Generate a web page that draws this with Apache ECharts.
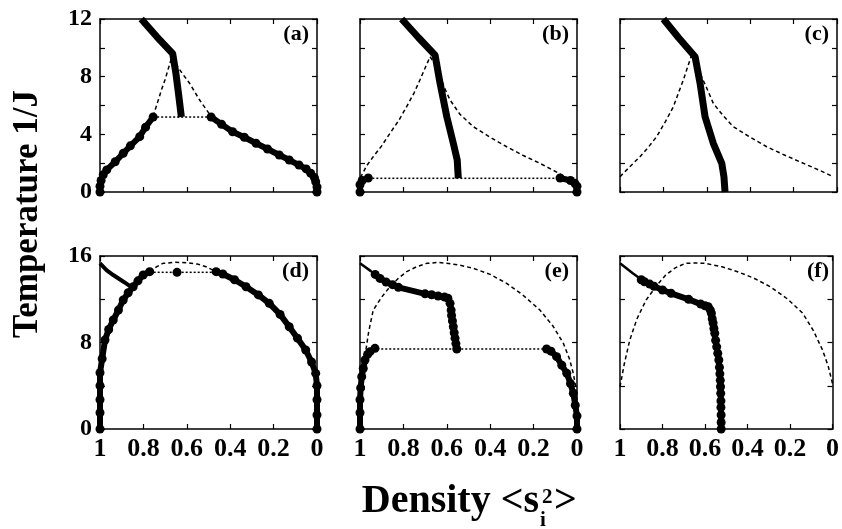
<!DOCTYPE html>
<html>
<head>
<meta charset="utf-8">
<script src="https://cdn.jsdelivr.net/npm/echarts@6/dist/echarts.min.js"></script>
<style>
  html, body { margin: 0; padding: 0; background: #fff; }
  #chart { width: 842px; height: 529px; }
</style>
</head>
<body>
<div id="chart"></div>
<script>
// x = density <s_i^2>, y = temperature 1/J
const xTicks = [1, 0.8, 0.6, 0.4, 0.2, 0];
const topYTicks = [0, 4, 8, 12];
const bottomYTicks = [0, 8, 16];
const panelLabels = ['(a)', '(b)', '(c)', '(d)', '(e)', '(f)'];

// (a)
const aSolid = [[0.81, 12], [0.74, 10.8], [0.665, 9.6], [0.65, 8.2], [0.638, 6.8], [0.625, 5.2]];
const aDashL = [[0.755, 5.25], [0.735, 6.2], [0.717, 7.07], [0.7, 7.8], [0.687, 8.46], [0.671, 9.27]];
const aDashR = [[0.671, 9.27], [0.656, 9.0], [0.62, 8.2], [0.587, 7.54], [0.541, 6.38], [0.488, 5.25]];
const aTie = [[0.755, 5.2], [0.488, 5.2]];
const aLeft = [[0.755, 5.2], [0.79, 4.5], [0.817, 3.84], [0.86, 3.2], [0.893, 2.68], [0.93, 2.1],
  [0.969, 1.53], [0.985, 1.2], [0.995, 0.8], [1, 0.4], [1, 0]];
const aRight = [[0.488, 5.2], [0.44, 4.7], [0.389, 4.18], [0.335, 3.8], [0.281, 3.38], [0.228, 2.98],
  [0.174, 2.57], [0.128, 2.22], [0.083, 1.87], [0.05, 1.6], [0.029, 1.3], [0.012, 1.0], [0.006, 0.71],
  [0, 0.35], [0, 0]];

// (b)
const bSolid = [[0.808, 12], [0.73, 10.7], [0.654, 9.5], [0.631, 7.54], [0.6, 5.22], [0.57, 3.38],
  [0.552, 2.22], [0.547, 0.95]];
const bDashL = [[0.998, 1.0], [0.97, 1.8], [0.939, 2.45], [0.9, 3.2], [0.862, 4.07], [0.82, 5.0],
  [0.785, 5.92], [0.75, 6.9], [0.724, 7.77], [0.7, 8.6], [0.677, 9.38]];
const bDashR = [[0.677, 9.38], [0.66, 9.0], [0.647, 8.69], [0.63, 8.0], [0.61, 7.2], [0.585, 6.38],
  [0.54, 5.4], [0.478, 4.53], [0.4, 3.8], [0.324, 3.14], [0.25, 2.55], [0.171, 1.99], [0.09, 1.35],
  [0.017, 0.71]];
const bTie = [[0.98, 0.95], [0.02, 0.95]];
const bLeft = [[1, 0], [1, 0.5], [0.99, 0.8], [0.962, 0.97]];
const bRight = [[0, 0], [0, 0.4], [0.01, 0.6], [0.03, 0.8], [0.078, 0.97]];

// (c)
const cSolid = [[0.80, 12], [0.73, 10.7], [0.654, 9.38], [0.631, 7.54], [0.608, 5.22], [0.57, 3.38],
  [0.531, 1.99], [0.521, 1.06], [0.516, 0]];
const cDashL = [[1, 1.06], [0.955, 1.75], [0.908, 2.45], [0.87, 3.1], [0.831, 3.84], [0.79, 4.9],
  [0.754, 5.92], [0.73, 6.9], [0.708, 7.77], [0.69, 8.6], [0.67, 9.5]];
const cDashR = [[0.67, 9.5], [0.65, 8.9], [0.631, 8.23], [0.6, 7.2], [0.57, 6.15], [0.525, 5.3],
  [0.478, 4.53], [0.4, 3.8], [0.324, 3.14], [0.24, 2.55], [0.155, 1.99], [0.08, 1.5], [0.017, 1.06]];

// (d)
const dSolid = [[1, 15.32], [0.97, 14.7], [0.939, 14.24], [0.89, 13.6], [0.847, 13.01]];
const dLeft = [[1, 0], [1, 1.5], [1, 2.7], [1, 4], [1, 5.2], [0.99, 6.5], [0.977, 8.23], [0.96, 9.2],
  [0.939, 10.08], [0.915, 11.0], [0.893, 11.93], [0.87, 12.6], [0.847, 13.16], [0.825, 13.7],
  [0.801, 14.24], [0.771, 14.55]];
const dDash = [[0.771, 14.55], [0.74, 15.0], [0.71, 15.32], [0.65, 15.42], [0.602, 15.38],
  [0.55, 15.25], [0.511, 15.01], [0.465, 14.55]];
const dTie = [[0.771, 14.49], [0.465, 14.49]];
const dMid = [[0.645, 14.49]];
const dRight = [[0.465, 14.55], [0.434, 14.33], [0.38, 13.8], [0.327, 13.16], [0.27, 12.4],
  [0.22, 11.62], [0.17, 10.6], [0.128, 9.46], [0.09, 8.4], [0.052, 7.31], [0.025, 6.2],
  [0.006, 5.15], [0, 4], [0, 2.7], [0, 1.3], [0, 0]];

// (e)
const eSolid = [[1, 15.32], [0.95, 14.6], [0.908, 13.93], [0.86, 13.45], [0.823, 13.1], [0.76, 12.8],
  [0.693, 12.49], [0.64, 12.3], [0.60, 12.18], [0.585, 11.62], [0.578, 10.5], [0.57, 9.46],
  [0.562, 8.4], [0.554, 7.40]];
const eDots = [[0.93, 14.3], [0.908, 13.93], [0.88, 13.6], [0.85, 13.35], [0.823, 13.1], [0.70, 12.5],
  [0.67, 12.42], [0.64, 12.3], [0.61, 12.2], [0.595, 12.1], [0.585, 11.62], [0.58, 11.0],
  [0.578, 10.5], [0.574, 10.0], [0.57, 9.46], [0.566, 8.9], [0.562, 8.4], [0.558, 7.9], [0.554, 7.40]];
const eDash = [[1, 3.5], [0.992, 5], [0.975, 7], [0.96, 9], [0.939, 11.0], [0.9, 12.2], [0.862, 13.16],
  [0.82, 14.0], [0.785, 14.55], [0.74, 15.0], [0.693, 15.32], [0.64, 15.4], [0.60, 15.32],
  [0.54, 15.15], [0.478, 14.86], [0.4, 14.3], [0.324, 13.47], [0.25, 12.4], [0.171, 11.0],
  [0.11, 9.5], [0.063, 7.93], [0.035, 6.5], [0.017, 5.15], [0.005, 3.8], [0, 2.7]];
const eTie = [[0.939, 7.4], [0.14, 7.4]];
const eLeft = [[1, 0], [1, 1.5], [1, 2.7], [0.997, 3.8], [0.992, 4.84], [0.985, 5.6], [0.977, 6.38],
  [0.965, 6.9], [0.954, 7.15], [0.931, 7.46]];
const eRight = [[0.14, 7.4], [0.12, 7.2], [0.094, 6.69], [0.07, 5.9], [0.047, 5.15], [0.03, 4.2],
  [0.017, 3.3], [0.008, 2.2], [0, 1.2], [0, 0]];

// (f)
const fSolid = [[1, 15.32], [0.94, 14.4], [0.885, 13.62], [0.84, 13.2], [0.80, 12.86], [0.74, 12.4],
  [0.677, 11.99], [0.63, 11.6], [0.585, 11.31], [0.57, 10.7], [0.562, 9.8], [0.554, 8.85],
  [0.545, 7.6], [0.535, 6.38], [0.53, 5.1], [0.527, 3.91], [0.525, 2], [0.524, 0]];
const fDots = [[0.9, 13.8], [0.885, 13.62], [0.86, 13.4], [0.84, 13.2], [0.80, 12.86], [0.76, 12.55],
  [0.677, 11.99], [0.62, 11.55], [0.6, 11.4], [0.585, 11.31], [0.575, 11.0], [0.57, 10.7],
  [0.566, 10.2], [0.562, 9.8], [0.558, 9.3], [0.554, 8.85], [0.55, 8.2], [0.545, 7.6], [0.54, 7.0],
  [0.535, 6.38], [0.532, 5.7], [0.53, 5.1], [0.528, 4.5], [0.527, 3.91], [0.526, 3.3], [0.525, 2.6],
  [0.525, 2], [0.524, 1.3], [0.524, 0.6], [0.524, 0]];
const fDash = [[1, 3.9], [0.98, 6.0], [0.954, 8.23], [0.92, 10.2], [0.877, 11.93], [0.83, 13.2],
  [0.785, 14.24], [0.74, 14.9], [0.693, 15.32], [0.64, 15.35], [0.60, 15.32], [0.52, 15.0],
  [0.447, 14.55], [0.37, 13.95], [0.293, 13.16], [0.21, 12.0], [0.14, 10.7], [0.09, 9.1],
  [0.047, 7.31], [0.02, 5.8], [0, 4.2]];

const FONT = '"Liberation Serif", "Times New Roman", serif';
const lefts = [100, 360, 620];
const tops = [19, 256];
const W = 217, H = 173;

const chart = echarts.init(document.getElementById('chart'));

const grids = [], xAxes = [], yAxes = [];
for (let i = 0; i < 6; i++) {
  const row = Math.floor(i / 3), col = i % 3;
  grids.push({left: lefts[col], top: tops[row], width: W, height: H});
  const line = {show: true, onZero: false, lineStyle: {color: '#000', width: 1.5}};
  const tick = {show: true, inside: true, length: 5, lineStyle: {color: '#000', width: 1.2}};
  const yMax = row === 0 ? 12 : 16;
  const yLab = row === 0 ? topYTicks : bottomYTicks;
  ['bottom', 'top'].forEach(pos => {
    xAxes.push({
      gridIndex: i, type: 'value', position: pos, min: 0, max: 1, interval: 0.2, inverse: true,
      axisLine: line, axisTick: tick, splitLine: {show: false},
      axisLabel: {
        show: pos === 'bottom' && row === 1, margin: 7, showMinLabel: true, showMaxLabel: true,
        color: '#000', fontFamily: FONT, fontWeight: 'bold', fontSize: 26,
        formatter: v => xTicks.includes(Math.round(v * 10) / 10) ? String(Math.round(v * 10) / 10) : ''
      }
    });
  });
  ['left', 'right'].forEach(pos => {
    yAxes.push({
      gridIndex: i, type: 'value', position: pos, min: 0, max: yMax, interval: row === 0 ? 2 : 4,
      axisLine: line, axisTick: tick, splitLine: {show: false},
      axisLabel: {
        show: pos === 'left' && col === 0, margin: 8, showMinLabel: true, showMaxLabel: true,
        color: '#000', fontFamily: FONT, fontWeight: 'bold', fontSize: 24,
        formatter: v => yLab.includes(v) ? String(v) : ''
      }
    });
  });
}

function solid(i, data, w) {
  return {type: 'line', xAxisIndex: 2 * i, yAxisIndex: 2 * i, data: data, showSymbol: false,
    symbol: 'none', lineStyle: {color: '#000', width: w}, z: 3};
}
function dots(i, data) {
  return {type: 'line', xAxisIndex: 2 * i, yAxisIndex: 2 * i, data: data, symbol: 'circle',
    symbolSize: 9, itemStyle: {color: '#000'}, lineStyle: {color: '#000', width: 6}, z: 4};
}
function dash(i, data) {
  return {type: 'line', xAxisIndex: 2 * i, yAxisIndex: 2 * i, data: data, showSymbol: false,
    symbol: 'none', lineStyle: {color: '#000', width: 1.5, type: [4, 3]}, z: 2};
}
function dotted(i, data) {
  return {type: 'line', xAxisIndex: 2 * i, yAxisIndex: 2 * i, data: data, showSymbol: false,
    symbol: 'none', lineStyle: {color: '#000', width: 1.5, type: [2, 2]}, z: 2};
}

const series = [
  solid(0, aSolid, 7), dash(0, aDashL), dash(0, aDashR), dotted(0, aTie), dots(0, aLeft), dots(0, aRight),
  solid(1, bSolid, 7), dash(1, bDashL), dash(1, bDashR), dotted(1, bTie), dots(1, bLeft), dots(1, bRight),
  solid(2, cSolid, 7), dash(2, cDashL), dash(2, cDashR),
  solid(3, dSolid, 4), dots(3, dLeft), dash(3, dDash), dotted(3, dTie), dots(3, dMid), dots(3, dRight),
  solid(4, eSolid, 2.5), dots(4, eDots), dash(4, eDash), dotted(4, eTie), dots(4, eLeft), dots(4, eRight),
  solid(5, fSolid, 2.5), dots(5, fDots), dash(5, fDash)
];

const graphic = [];
panelLabels.forEach((t, i) => {
  const row = Math.floor(i / 3), col = i % 3;
  graphic.push({type: 'text', x: lefts[col] + W - 8, y: tops[row] + 15,
    style: {text: t, fill: '#000', font: 'bold 22px ' + FONT, textAlign: 'right', textVerticalAlign: 'middle'}});
});
graphic.push({type: 'text', x: 28, y: 214, rotation: Math.PI / 2,
  style: {text: 'Temperature 1/J', fill: '#000', font: 'bold 35px ' + FONT, textAlign: 'center', textVerticalAlign: 'middle'}});
// x title with sub/superscript
const tx = 539, ty = 522;
graphic.push({type: 'text', x: tx, y: ty,
  style: {text: 'Density <s', fill: '#000', font: 'bold 40px ' + FONT, textAlign: 'right', textVerticalAlign: 'bottom'}});
graphic.push({type: 'text', x: tx + 1, y: ty + 9,
  style: {text: 'i', fill: '#000', font: 'bold 21px ' + FONT, textAlign: 'left', textVerticalAlign: 'bottom'}});
graphic.push({type: 'text', x: tx + 3, y: ty - 14,
  style: {text: '2', fill: '#000', font: 'bold 21px ' + FONT, textAlign: 'left', textVerticalAlign: 'bottom'}});
graphic.push({type: 'text', x: tx + 15, y: ty,
  style: {text: '>', fill: '#000', font: 'bold 40px ' + FONT, textAlign: 'left', textVerticalAlign: 'bottom'}});

chart.setOption({
  animation: false,
  grid: grids,
  xAxis: xAxes,
  yAxis: yAxes,
  series: series,
  graphic: graphic
});
</script>
</body>
</html>
